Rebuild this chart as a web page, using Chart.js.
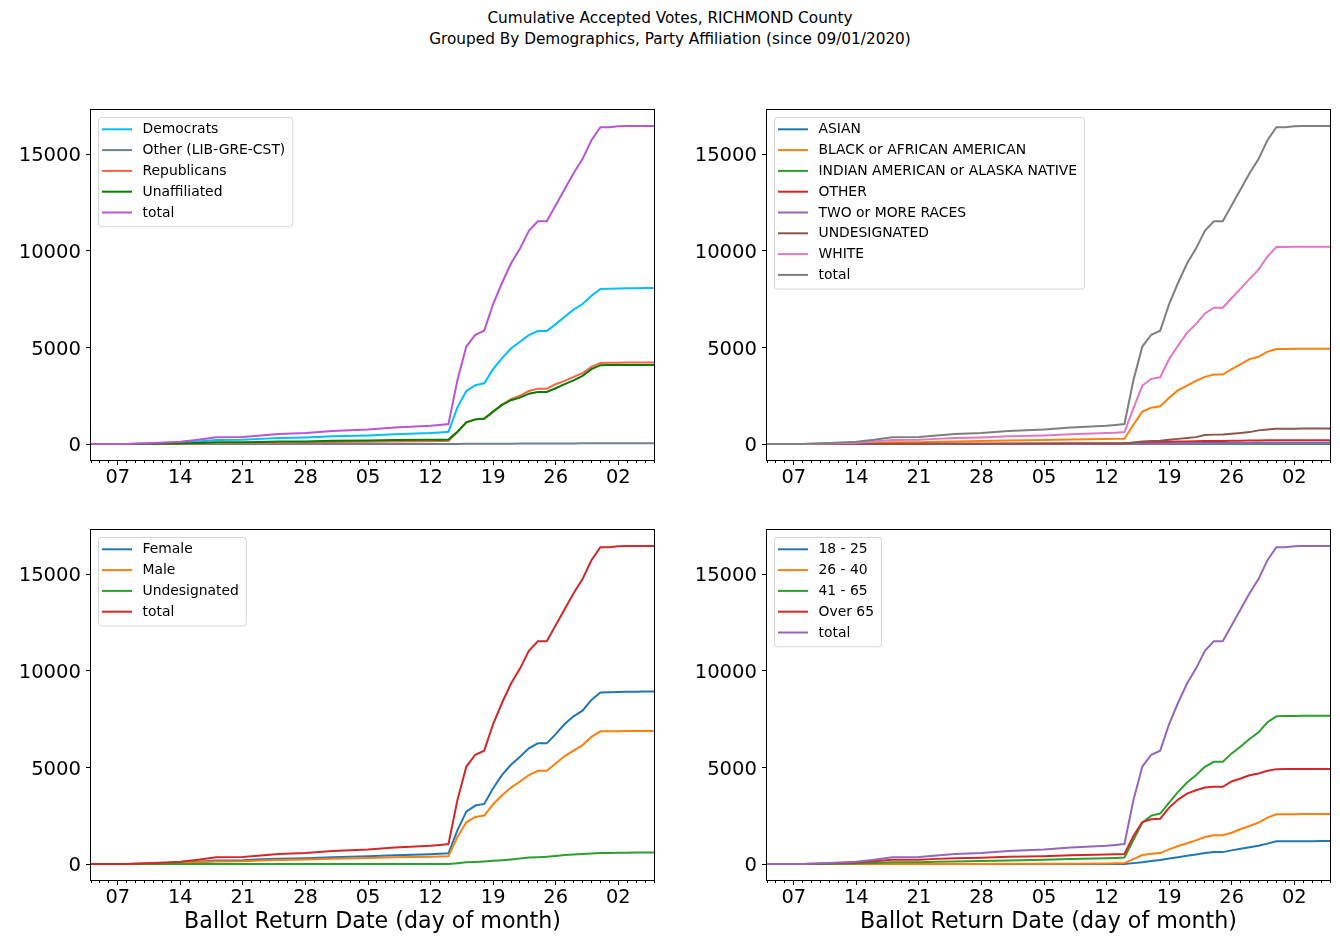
<!DOCTYPE html>
<html>
<head>
<meta charset="utf-8">
<script src="https://cdn.jsdelivr.net/npm/chart.js@4.4.1/dist/chart.umd.min.js"></script>
<style>
  html, body { margin: 0; padding: 0; background: #fff; overflow: hidden; }
  body { width: 1340px; height: 943px; position: relative; font-family: 'DejaVu Sans', sans-serif; }
  #suptitle { position: absolute; left: 0; top: 8px; width: 1340px; text-align: center; font-size: 15.3px; line-height: 21px; color: #000; }
  canvas { position: absolute; }
</style>
</head>
<body>
<div id="suptitle">Cumulative Accepted Votes, RICHMOND County<br>Grouped By Demographics, Party Affiliation (since 09/01/2020)</div>
<canvas id="partyChart" width="664" height="400" style="left:0;top:100px"></canvas>
<canvas id="raceChart" width="664" height="400" style="left:676px;top:100px"></canvas>
<canvas id="genderChart" width="664" height="423" style="left:0;top:520px"></canvas>
<canvas id="ageChart" width="664" height="423" style="left:676px;top:520px"></canvas>
<script>
// ballot return dates (sparse before the early voting start, daily after)
const dates = ['2020-09-04','2020-09-08','2020-09-11','2020-09-14','2020-09-16','2020-09-18','2020-09-21','2020-09-23',
  '2020-09-25','2020-09-28','2020-10-01','2020-10-05','2020-10-08','2020-10-12','2020-10-13','2020-10-14',
  '2020-10-15','2020-10-16','2020-10-17','2020-10-18','2020-10-19','2020-10-20','2020-10-21','2020-10-22',
  '2020-10-23','2020-10-24','2020-10-25','2020-10-26','2020-10-27','2020-10-28','2020-10-29','2020-10-30',
  '2020-10-31','2020-11-01','2020-11-02','2020-11-03','2020-11-04','2020-11-05','2020-11-06'];

const total = [0,5,60,120,230,350,370,450,520,570,680,760,860,950,990,1040,
  3300,5050,5660,5870,7250,8350,9350,10120,11040,11530,11530,12360,13190,14020,14750,15730,16400,16400,16450,16460,16465,16470,16470];

// party
const democrats = [0,3,35,70,140,210,220,270,310,340,400,450,510,570,600,640,
  1900,2750,3050,3150,3880,4450,4950,5300,5640,5850,5850,6210,6590,6960,7250,7680,8030,8040,8060,8065,8070,8075,8075];
const otherParty = [0,0,0,0,0,0,0,1,1,2,2,3,3,4,5,5,
  8,12,14,15,18,21,24,26,28,30,30,32,34,36,38,40,42,42,43,43,44,44,44];
const republicans = [0,1,10,20,35,50,55,70,80,90,110,120,135,150,160,165,
  620,1120,1280,1320,1690,2040,2320,2500,2750,2870,2870,3100,3270,3480,3670,4000,4200,4205,4215,4220,4220,4225,4225];
const unaffiliated = [0,1,15,30,55,90,95,110,130,140,170,190,215,230,230,235,
  640,1125,1280,1315,1680,2025,2270,2405,2610,2700,2700,2890,3100,3300,3530,3880,4085,4088,4090,4092,4094,4095,4095];

// race
const asian = [0,0,1,2,4,6,6,8,9,10,12,13,15,17,18,19,
  25,30,33,34,38,42,45,48,51,53,53,56,58,61,63,66,68,68,69,69,69,70,70];
const black = [0,1,12,30,55,90,95,120,140,155,190,210,240,260,270,280,
  1000,1680,1885,1960,2400,2790,3030,3270,3480,3600,3600,3880,4140,4400,4520,4780,4920,4925,4930,4932,4935,4935,4935];
const indianAm = [0,0,0,0,1,1,1,1,1,2,2,2,3,3,3,3,
  4,5,5,5,6,6,7,7,8,8,8,9,9,10,10,11,11,11,11,11,11,11,11];
const otherRace = [0,0,2,5,8,12,13,16,18,20,24,27,31,35,37,40,
  70,95,105,108,120,130,140,148,155,160,160,168,175,182,188,195,200,200,201,202,202,203,203];
const twoOrMore = [0,0,0,1,2,3,3,4,4,5,6,7,8,9,9,10,
  14,18,20,21,24,27,29,31,33,35,35,37,39,41,43,45,47,47,47,48,48,48,48];
const undesignatedRace = [0,0,1,3,5,8,9,12,14,16,20,24,28,32,34,36,
  80,140,160,170,225,270,310,360,470,490,500,530,570,620,710,760,795,798,800,802,803,805,805];
const white = [0,3,35,75,140,210,220,270,310,340,400,450,510,570,590,620,
  1850,3030,3375,3460,4400,5100,5760,6210,6765,7060,7060,7560,8050,8550,9030,9710,10200,10200,10210,10215,10220,10220,10220];

// gender
const female = [0,3,32,65,125,190,200,245,280,305,360,400,455,510,530,555,
  1750,2715,3030,3115,3930,4620,5140,5555,5990,6250,6250,6730,7250,7650,7940,8500,8880,8890,8910,8920,8925,8930,8930];
const male = [0,2,25,50,95,140,150,180,210,235,280,310,350,380,390,400,
  1400,2165,2440,2510,3100,3565,3960,4275,4600,4830,4830,5210,5590,5870,6160,6590,6870,6875,6880,6885,6888,6890,6890];
const undesignatedGender = [0,0,0,0,0,0,0,0,0,1,1,1,2,2,2,3,
  45,90,110,140,170,200,240,290,345,360,380,420,470,500,520,550,575,580,585,590,595,600,600];

// age
const age18to25 = [0,0,0,0,0,1,1,1,2,2,2,3,3,4,5,6,
  50,100,160,210,295,360,430,500,570,620,620,710,795,870,950,1060,1180,1182,1185,1187,1188,1190,1190];
const age26to40 = [0,0,1,2,3,4,5,6,8,10,14,18,24,32,40,50,
  260,470,535,570,760,935,1075,1230,1400,1490,1490,1625,1815,1970,2145,2405,2580,2583,2586,2588,2590,2590,2590];
const age41to65 = [0,1,10,25,55,90,95,120,140,160,190,220,260,300,320,345,
  1250,2145,2510,2615,3185,3740,4220,4600,5035,5295,5295,5730,6090,6475,6820,7340,7650,7660,7670,7675,7680,7685,7685];
const over65 = [0,3,40,80,150,220,230,270,300,330,380,410,460,500,510,520,
  1450,2180,2320,2350,2925,3340,3650,3825,3960,4000,4000,4275,4430,4600,4690,4830,4915,4918,4920,4922,4924,4925,4925];

const xTickDates = ['2020-09-07','2020-09-14','2020-09-21','2020-09-28','2020-10-05','2020-10-12','2020-10-19','2020-10-26','2020-11-02'];
const xTickLabels = ['07','14','21','28','05','12','19','26','02'];
const yTicks = [0, 5000, 10000, 15000];

const tab10 = ['#1f77b4','#ff7f0e','#2ca02c','#d62728','#9467bd','#8c564b','#e377c2','#7f7f7f'];

Chart.defaults.font.family = "'DejaVu Sans', sans-serif";
Chart.defaults.color = '#000';

const startMs = Date.parse(dates[0]);
const dayIndex = d => Math.round((Date.parse(d) - startMs) / 86400000);
const lastDay = dayIndex(dates[dates.length - 1]);
const majorDays = xTickDates.map(dayIndex);
const allDays = [];
for (let i = 0; i <= lastDay; i++) allDays.push(i);
const yTop = Math.max(...total);

function noScalePadding(sc) {
  sc.paddingTop = 0;
  sc.paddingBottom = 0;
  sc.paddingLeft = 0;
  sc.paddingRight = 0;
}

// black box round the plot area, like matplotlib spines
const frame = {
  id: 'frame',
  afterDatasetsDraw(chart) {
    const ctx = chart.ctx, a = chart.chartArea;
    ctx.save();
    ctx.strokeStyle = '#000';
    ctx.lineWidth = 1;
    ctx.strokeRect(a.left - 0.5, a.top - 0.5, a.right - a.left + 1, a.bottom - a.top + 1);
    ctx.restore();
  }
};

// legend in the upper left corner, inside the plot
const boxLegend = {
  id: 'boxLegend',
  afterDraw(chart) {
    const ctx = chart.ctx, a = chart.chartArea;
    const sets = chart.data.datasets;
    ctx.save();
    ctx.font = "13.9px 'DejaVu Sans'";
    const textW = Math.max(...sets.map(s => ctx.measureText(s.label).width));
    const x = a.left + 7, y = a.top + 7;
    const w = 44.5 + textW + 7, h = 26 + (sets.length - 1) * 20.8;
    ctx.fillStyle = 'rgba(255,255,255,0.8)';
    ctx.strokeStyle = 'rgba(204,204,204,0.8)';
    ctx.lineWidth = 1;
    ctx.beginPath();
    ctx.roundRect(x + 0.5, y + 0.5, w, h, 3);
    ctx.fill();
    ctx.stroke();
    sets.forEach((s, i) => {
      const cy = a.top + 19.8 + i * 20.8;
      ctx.strokeStyle = s.borderColor;
      ctx.lineWidth = 2;
      ctx.beginPath();
      ctx.moveTo(a.left + 11, cy - 0.5);
      ctx.lineTo(a.left + 41, cy - 0.5);
      ctx.stroke();
      ctx.fillStyle = '#000';
      ctx.textBaseline = 'middle';
      ctx.fillText(s.label, a.left + 51.5, cy);
    });
    ctx.restore();
  }
};

function makePanel(id, series, xTitle) {
  return new Chart(document.getElementById(id), {
    type: 'line',
    data: {
      datasets: series.map((s, i) => ({
        label: s[0],
        borderColor: s[2],
        data: dates.map((d, j) => ({x: dayIndex(d), y: s[1][j]})),
        borderWidth: 2,
        pointRadius: 0,
        tension: 0,
        fill: false,
        order: -i
      }))
    },
    options: {
      responsive: false,
      animation: false,
      devicePixelRatio: 1,
      layout: {padding: {top: 10, right: 10, left: 0, bottom: 0}},
      plugins: {legend: {display: false}, tooltip: {enabled: false}},
      scales: {
        x: {
          type: 'linear',
          min: 0,
          max: lastDay,
          afterBuildTicks: sc => { sc.ticks = allDays.map(v => ({value: v})); },
          afterFit: sc => { sc.height = xTitle ? 63 : 40; noScalePadding(sc); },
          border: {display: false},
          grid: {
            drawOnChartArea: false, tickLength: 5, tickWidth: 1, tickColor: '#000',
            tickBorderDash: c => (c.tick && majorDays.includes(c.tick.value)) ? [] : [3, 20]
          },
          ticks: {
            autoSkip: false, maxRotation: 0, minRotation: 0, padding: 1, font: {size: 19.4},
            callback: v => { const k = majorDays.indexOf(v); return k < 0 ? '' : xTickLabels[k]; }
          },
          title: {display: !!xTitle, text: xTitle || '', font: {size: 22.2}, padding: {top: 0, bottom: 7}}
        },
        y: {
          min: -0.05 * yTop,
          max: 1.05 * yTop,
          afterBuildTicks: sc => { sc.ticks = yTicks.map(v => ({value: v})); },
          afterFit: sc => { sc.width = 91; noScalePadding(sc); },
          border: {display: false},
          grid: {drawOnChartArea: false, tickLength: 5, tickWidth: 1, tickColor: '#000'},
          // empty first line with a small line height nudges the label 2px down, onto the tick
          ticks: {padding: 5, font: {size: 19.6, lineHeight: '4px'}, callback: v => ['', String(v)]}
        }
      }
    },
    plugins: [frame, boxLegend]
  });
}

makePanel('partyChart', [
  ['Democrats', democrats, 'deepskyblue'],
  ['Other (LIB-GRE-CST)', otherParty, 'slategray'],
  ['Republicans', republicans, 'tomato'],
  ['Unaffiliated', unaffiliated, 'green'],
  ['total', total, 'mediumorchid']
]);

makePanel('raceChart', [
  ['ASIAN', asian, tab10[0]],
  ['BLACK or AFRICAN AMERICAN', black, tab10[1]],
  ['INDIAN AMERICAN or ALASKA NATIVE', indianAm, tab10[2]],
  ['OTHER', otherRace, tab10[3]],
  ['TWO or MORE RACES', twoOrMore, tab10[4]],
  ['UNDESIGNATED', undesignatedRace, tab10[5]],
  ['WHITE', white, tab10[6]],
  ['total', total, tab10[7]]
]);

makePanel('genderChart', [
  ['Female', female, tab10[0]],
  ['Male', male, tab10[1]],
  ['Undesignated', undesignatedGender, tab10[2]],
  ['total', total, tab10[3]]
], 'Ballot Return Date (day of month)');

makePanel('ageChart', [
  ['18 - 25', age18to25, tab10[0]],
  ['26 - 40', age26to40, tab10[1]],
  ['41 - 65', age41to65, tab10[2]],
  ['Over 65', over65, tab10[3]],
  ['total', total, tab10[4]]
], 'Ballot Return Date (day of month)');
</script>
</body>
</html>
